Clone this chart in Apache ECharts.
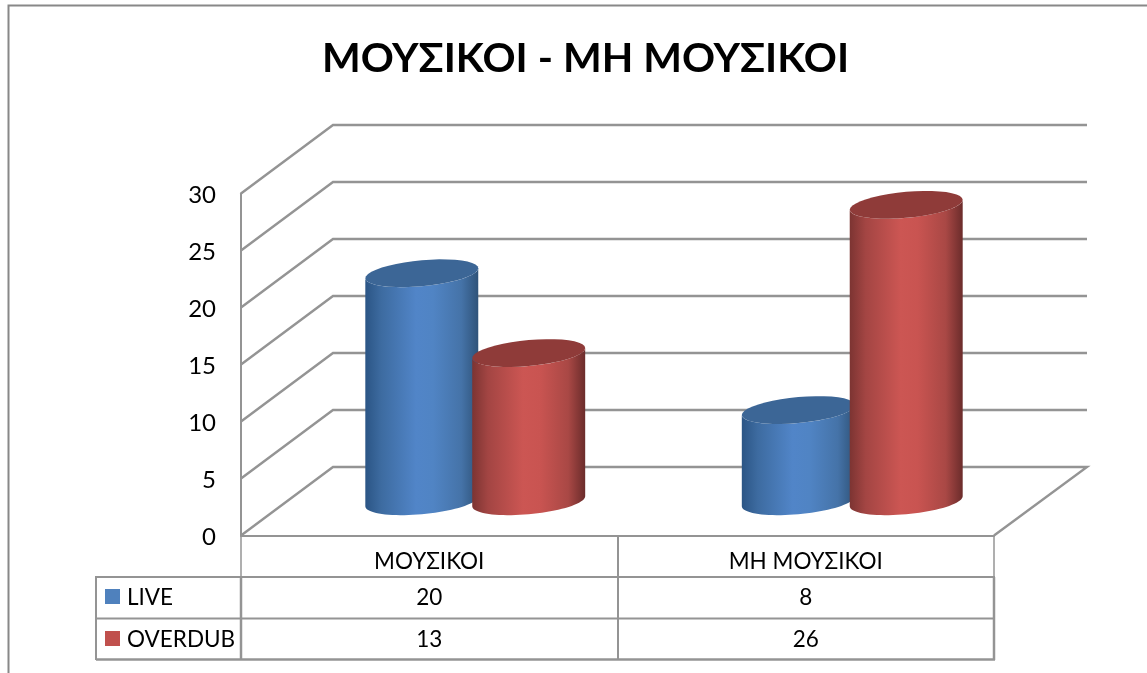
<!DOCTYPE html>
<html>
<head>
<meta charset="utf-8">
<style>html,body{margin:0;padding:0;background:#fff}#c{width:1147px;height:673px}</style>
<script src="https://cdn.jsdelivr.net/npm/echarts@6/dist/echarts.min.js"></script>
</head>
<body>
<div id="c"></div>
<script>
const titleText = 'ΜΟΥΣΙΚΟΙ - ΜΗ ΜΟΥΣΙΚΟΙ';
const categories = ['ΜΟΥΣΙΚΟΙ', 'ΜΗ ΜΟΥΣΙΚΟΙ'];
const seriesNames = ['LIVE', 'OVERDUB'];
const liveValues = [20, 8];
const overdubValues = [13, 26];
const yTicks = [0, 5, 10, 15, 20, 25, 30];

const FONT = 'Lato, "Open Sans", sans-serif';
const LINE = '#949494';
const DX = 92, DY = -68.5;
const TEXT_SIZE = 22.5;

function grad(stops) {
  return new echarts.graphic.LinearGradient(0, 0, 1, 0, stops.map(s => ({offset: s[0], color: s[1]})));
}
const styles = [
  {cap: '#3c6696', body: [[0,'#2b5585'],[0.14,'#3d6ba0'],[0.45,'#5185c8'],[0.6,'#5084c4'],[0.85,'#4573a8'],[1,'#2f5379']]},
  {cap: '#8f3b39', body: [[0,'#7c3432'],[0.14,'#a34543'],[0.45,'#cc5653'],[0.6,'#c95451'],[0.85,'#a94845'],[1,'#6b2c2b']]}
];

function ellipsePts(cx, cy, a, b, s, from, to) {
  const pts = [], n = 40;
  for (let i = 0; i <= n; i++) {
    const t = from + (to - from) * i / n;
    pts.push([cx + a * Math.cos(t), cy + b * Math.sin(t) - s * Math.cos(t)]);
  }
  return pts;
}

function cylinder(idx) {
  return function (params, api) {
    const cat = api.value(0), val = api.value(1);
    const base = api.coord([cat, 0]), top = api.coord([cat, val]);
    const step = api.size([1, 0])[0];
    const off = step * 0.142 * (idx === 0 ? -1 : 1);
    const cx = base[0] + DX / 2 + off + (cat === 1 && idx === 1 ? 1 : 0);
    const yb = base[1] + DY / 2, yt = top[1] + DY / 2;
    const a = step * 0.15, b = 13, s = 5;
    const bottom = ellipsePts(cx, yb, a, b, s, 0, Math.PI);
    const body = [[cx + a, yt - s]].concat(bottom, [[cx - a, yt + s]]);
    return {
      type: 'group',
      children: [
        {type: 'polygon', shape: {points: body.concat(ellipsePts(cx, yt, a, b, s, Math.PI, 0))}, style: {fill: grad(styles[idx].body)}},
        {type: 'polygon', shape: {points: ellipsePts(cx, yt, a, b, s, 0, Math.PI * 2)}, style: {fill: styles[idx].cap}},
        {type: 'text', silent: true, style: {text: String(val), x: base[0], y: 598 + idx * 42, align: 'center', verticalAlign: 'middle', font: TEXT_SIZE + 'px ' + FONT, fill: '#000'}}
      ]
    };
  };
}

function wall(params, api) {
  const v = api.value(1);
  const cs = params.coordSys;
  const y = api.coord([0, v])[1];
  const l = cs.x, r = cs.x + cs.width;
  const pts = [[l, y], [l + DX, y + DY], [r + DX + 1, y + DY]];
  if (v === 0) pts.push([r, y]);
  return {type: 'polyline', shape: {points: pts}, style: {stroke: LINE, lineWidth: 2.4, fill: null}};
}

function hline(x1, y1, x2, y2, w) {
  return {type: 'line', silent: true, z: 5, shape: {x1, y1, x2, y2}, style: {stroke: LINE, lineWidth: w}};
}
const tableGraphics = [
  {type: 'rect', silent: true, shape: {x: 8.5, y: 5.5, width: 1400, height: 900}, style: {fill: null, stroke: '#888', lineWidth: 2}},
  hline(241, 535, 241, 577, 1.5),
  hline(241, 577, 241, 660, 2.5),
  hline(618, 535, 618, 660, 2),
  hline(994, 535, 994, 577, 1.5),
  hline(994, 577, 994, 660, 2.5),
  hline(96, 577, 995, 577, 2),
  hline(96, 618.5, 995, 618.5, 2),
  hline(96, 659.5, 995, 659.5, 2.5),
  hline(96, 576, 96, 660, 2),
  {type: 'rect', silent: true, shape: {x: 105, y: 589, width: 15, height: 15}, style: {fill: '#4f81bd'}},
  {type: 'rect', silent: true, shape: {x: 105, y: 631, width: 15, height: 15}, style: {fill: '#c0504d'}},
  {type: 'text', silent: true, style: {text: seriesNames[0], x: 127, y: 598, verticalAlign: 'middle', font: TEXT_SIZE + 'px ' + FONT, fill: '#000'}},
  {type: 'text', silent: true, style: {text: seriesNames[1], x: 127, y: 640, verticalAlign: 'middle', font: TEXT_SIZE + 'px ' + FONT, fill: '#000'}}
];

const chart = echarts.init(document.getElementById('c'), null, {renderer: 'canvas'});
chart.setOption({
  animation: false,
  backgroundColor: '#fff',
  title: {text: titleText, left: 580.5, top: 33, textAlign: 'center',
    textStyle: {fontFamily: FONT, fontWeight: 'bold', fontSize: 41, color: '#000'}},
  grid: {left: 241, right: 153, top: 193.5, height: 342},
  xAxis: {type: 'category', data: categories,
    axisLine: {show: true, lineStyle: {color: LINE, width: 2}},
    axisTick: {show: false},
    axisLabel: {margin: 15, fontFamily: FONT, fontSize: TEXT_SIZE, color: '#000'},
    splitLine: {show: false}},
  yAxis: {type: 'value', min: 0, max: 30, interval: 5,
    axisLine: {show: true, lineStyle: {color: LINE, width: 2}},
    axisTick: {show: false},
    axisLabel: {margin: 25, fontFamily: FONT, fontSize: 24, color: '#000',
      formatter: v => '{n|' + v + '}',
      rich: {n: {fontFamily: FONT, fontSize: 24, color: '#000', padding: [4, 0, 0, 0]}}},
    splitLine: {show: false}},
  graphic: tableGraphics,
  series: [
    {type: 'custom', name: 'walls', renderItem: wall, silent: true, z: 1,
      data: yTicks.map(v => [0, v]), encode: {x: 0, y: 1}},
    {type: 'custom', name: seriesNames[0], renderItem: cylinder(0), z: 2,
      data: liveValues.map((v, i) => [i, v]), encode: {x: 0, y: 1}},
    {type: 'custom', name: seriesNames[1], renderItem: cylinder(1), z: 3,
      data: overdubValues.map((v, i) => [i, v]), encode: {x: 0, y: 1}}
  ]
});
</script>
</body>
</html>
